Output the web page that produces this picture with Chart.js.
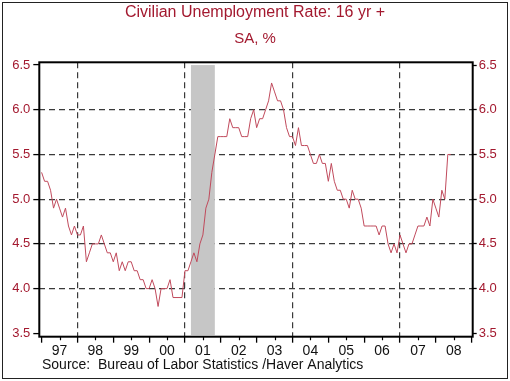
<!DOCTYPE html>
<html><head><meta charset="utf-8">
<script src="https://cdn.jsdelivr.net/npm/chart.js@4.4.1/dist/chart.umd.min.js"></script>
<style>
html,body{margin:0;padding:0;background:#fff;}
canvas{display:block;}
</style></head><body>
<canvas id="c" width="510" height="381"></canvas>
<script>
// ---- data ----
const START_YEAR = 1997;               // first month: Jan 1997, monthly through Jun 2008
const unemploymentRate = [
  5.3,5.2,5.2,5.1,4.9,5.0,4.9,4.8,4.9,4.7,4.6,4.7, // 1997
  4.6,4.6,4.7,4.3,4.4,4.5,4.5,4.5,4.6,4.5,4.4,4.4, // 1998
  4.3,4.4,4.2,4.3,4.2,4.3,4.3,4.2,4.2,4.1,4.1,4.0, // 1999
  4.0,4.1,4.0,3.8,4.0,4.0,4.0,4.1,3.9,3.9,3.9,3.9, // 2000
  4.2,4.2,4.3,4.4,4.3,4.5,4.6,4.9,5.0,5.3,5.5,5.7, // 2001
  5.7,5.7,5.7,5.9,5.8,5.8,5.8,5.7,5.7,5.7,5.9,6.0, // 2002
  5.8,5.9,5.9,6.0,6.1,6.3,6.2,6.1,6.1,6.0,5.8,5.7, // 2003
  5.7,5.6,5.8,5.6,5.6,5.6,5.5,5.4,5.4,5.5,5.4,5.4, // 2004
  5.2,5.4,5.2,5.1,5.1,5.0,5.0,4.9,5.1,5.0,5.0,4.9, // 2005
  4.7,4.7,4.7,4.7,4.7,4.6,4.7,4.7,4.5,4.4,4.5,4.4, // 2006
  4.6,4.5,4.4,4.5,4.5,4.6,4.7,4.7,4.7,4.8,4.7,5.0, // 2007
  4.9,4.8,5.1,5.0,5.5,5.5                          // 2008
];
const yearLabels = ['97','98','99','00','01','02','03','04','05','06','07','08'];
const yTickValues = [3.5, 4.0, 4.5, 5.0, 5.5, 6.0, 6.5];
const verticalGridYears = [1998, 2001, 2004, 2007];
const recessionSpan = [2001 + 2/12, 2001 + 10/12]; // Mar 2001 - Nov 2001
const titleText = 'Civilian Unemployment Rate: 16 yr +';
const subtitleText = 'SA, %';
const sourceText = 'Source:  Bureau of Labor Statistics /Haver Analytics';

// ---- styling ----
const FONT = "'Liberation Sans', Arial, Helvetica, sans-serif";
const RED = '#a3192f';
const LINE = '#c04a5c';
const GRID = '#3a3a3a';
const DASH = [6, 4];

const points = unemploymentRate.map((v, i) => ({ x: START_YEAR + i / 12, y: v }));
const X_MIN = 1996.936, X_MAX = 2009.028, Y_MIN = 3.462, Y_MAX = 6.531;

const halfYearTicks = [];
for (let y = START_YEAR; y <= START_YEAR + yearLabels.length; y += 0.5) halfYearTicks.push(y);

const decorPlugin = {
  id: 'decor',
  beforeDatasetsDraw(chart) {
    const { ctx, scales: { x, y } } = chart;
    ctx.save();
    ctx.fillStyle = '#c6c6c6';
    const x0 = x.getPixelForValue(recessionSpan[0]);
    const x1 = x.getPixelForValue(recessionSpan[1]);
    const yTop = y.getPixelForValue(yTickValues[yTickValues.length - 1]);
    const yBot = y.getPixelForValue(3.48);
    ctx.fillRect(x0, yTop, x1 - x0, yBot - yTop);
    ctx.restore();
  },
  afterDraw(chart) {
    const { ctx, chartArea: a, scales: { x } } = chart;
    ctx.save();
    // plot frame
    ctx.strokeStyle = '#000';
    ctx.lineWidth = 2;
    ctx.strokeRect(a.left, a.top, a.right - a.left, a.bottom - a.top);
    // minor (mid-year) ticks
    ctx.lineWidth = 1.2;
    ctx.beginPath();
    halfYearTicks.filter(v => !Number.isInteger(v)).forEach(v => {
      const px = Math.round(x.getPixelForValue(v)) + 0.5;
      ctx.moveTo(px, a.bottom);
      ctx.lineTo(px, a.bottom + 3.5);
    });
    ctx.stroke();
    // source line
    ctx.fillStyle = '#111';
    ctx.font = '14px ' + FONT;
    ctx.textBaseline = 'alphabetic';
    ctx.textAlign = 'left';
    ctx.fillText(sourceText, 42, 368.5);
    // outer image border
    ctx.lineWidth = 1;
    ctx.strokeStyle = '#222';
    ctx.strokeRect(2.5, 2.5, 505, 376);
    ctx.restore();
  }
};

const yTicksCommon = {
  color: RED,
  font: { family: FONT, size: 13 },
  callback: v => Number(v).toFixed(1)
};

new Chart(document.getElementById('c'), {
  type: 'line',
  data: {
    datasets: [{
      label: 'Civilian Unemployment Rate: 16 yr +',
      data: points,
      borderColor: LINE,
      borderWidth: 1,
      pointRadius: 0,
      tension: 0,
      fill: false
    }]
  },
  options: {
    responsive: false,
    animation: false,
    events: [],
    layout: { padding: { top: 0, left: 0, right: 0, bottom: 18.3 } },
    plugins: {
      legend: { display: false },
      tooltip: { enabled: false },
      title: {
        display: true, text: titleText, color: RED,
        font: { family: FONT, size: 16, weight: 'normal', lineHeight: 1.2 },
        padding: { top: 3, bottom: 4 }
      },
      subtitle: {
        display: true, text: subtitleText, color: RED,
        font: { family: FONT, size: 15, weight: 'normal', lineHeight: 1.2 },
        padding: { top: 3.5, bottom: 14.6 }
      }
    },
    scales: {
      x: {
        type: 'linear', min: X_MIN, max: X_MAX,
        afterBuildTicks: s => { s.ticks = halfYearTicks.map(v => ({ value: v })); },
        afterFit: s => { s.height = 26; },
        ticks: {
          autoSkip: false, maxRotation: 0, minRotation: 0, padding: 0,
          color: '#111', font: { family: FONT, size: 14 },
          callback: v => Number.isInteger(v) ? '' : (yearLabels[Math.floor(v) - START_YEAR] || '')
        },
        grid: {
          color: c => (c.tick && verticalGridYears.includes(c.tick.value)) ? GRID : 'rgba(0,0,0,0)',
          lineWidth: 1.2,
          drawTicks: true,
          tickLength: 6,
          tickWidth: 1.3,
          tickBorderDash: [],
          tickColor: c => (c.tick && Number.isInteger(c.tick.value)) ? '#000' : 'rgba(0,0,0,0)'
        },
        border: { display: false, dash: DASH }
      },
      y: {
        position: 'left', min: Y_MIN, max: Y_MAX,
        afterBuildTicks: s => { s.ticks = yTickValues.map(v => ({ value: v })); },
        afterFit: s => { s.width = 39.3; },
        ticks: Object.assign({ padding: 3 }, yTicksCommon),
        grid: {
          color: c => (c.tick && (c.tick.value === 3.5 || c.tick.value === 6.5)) ? 'rgba(0,0,0,0)' : GRID,
          lineWidth: 1.2,
          tickLength: 6,
          tickWidth: 1.3,
          tickBorderDash: [],
          tickColor: '#000'
        },
        border: { display: false, dash: DASH }
      },
      y2: {
        position: 'right', min: Y_MIN, max: Y_MAX,
        afterBuildTicks: s => { s.ticks = yTickValues.map(v => ({ value: v })); },
        afterFit: s => { s.width = 37.3; },
        ticks: Object.assign({ padding: 2 }, yTicksCommon),
        grid: {
          drawOnChartArea: false,
          tickLength: 4,
          tickWidth: 1.3,
          tickColor: '#000'
        },
        border: { display: false }
      }
    }
  },
  plugins: [decorPlugin]
});
</script>
</body></html>
